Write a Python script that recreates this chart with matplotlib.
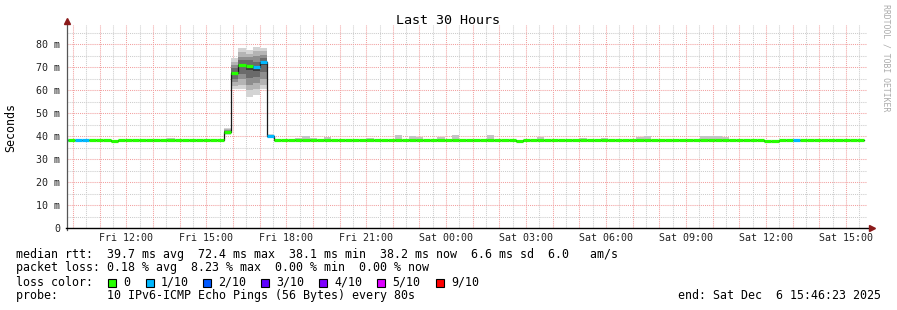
"""
SmokePing style latency graph: last 30 hours, median rtt with smoke.
"""

from datetime import datetime, timedelta

import matplotlib

matplotlib.use("Agg")
import matplotlib.pyplot as plt
from matplotlib.patches import Rectangle

W, H = 897, 310
MONO = "DejaVu Sans Mono"

# ---- data -----------------------------------------------------------------
start = datetime(2025, 12, 5, 9, 46, 23)
end_label = "end: Sat Dec  6 15:46:23 2025"
title = "Last 30 Hours"

bin_minutes = 16
first_edge_h = -0.232  # first 16-min bin starts just before the window

# median rtt per 16-min bin (ms)
median_ms = [
    38.2, 38.2, 38.2, 38.2, 38.2, 38.2, 38.2, 38.0, 38.2, 38.2,
    38.2, 38.2, 38.2, 38.2, 38.2, 38.2, 38.2, 38.2, 38.2, 38.2,
    38.2, 38.2, 38.2, 42.0, 67.6, 71.1, 70.4, 70.0, 72.3, 40.1,
    38.2, 38.2, 38.2, 38.2, 38.2, 38.2, 38.2, 38.2, 38.2, 38.2,
    38.2, 38.2, 38.2, 38.2, 38.2, 38.2, 38.2, 38.2, 38.2, 38.2,
    38.2, 38.2, 38.2, 38.2, 38.2, 38.2, 38.2, 38.2, 38.2, 38.2,
    38.2, 38.2, 38.2, 38.2, 38.0, 38.2, 38.2, 38.2, 38.2, 38.2,
    38.2, 38.2, 38.2, 38.2, 38.2, 38.2, 38.2, 38.2, 38.2, 38.2,
    38.2, 38.2, 38.2, 38.2, 38.2, 38.2, 38.2, 38.2, 38.2, 38.2,
    38.2, 38.2, 38.2, 38.2, 38.2, 38.2, 38.2, 38.2, 38.2, 38.0,
    38.0, 38.2, 38.2, 38.2, 38.2, 38.2, 38.2, 38.2, 38.2, 38.2,
    38.2, 38.2, 38.2,
]

# lost pings out of 10 per bin
loss = [
    1, 0, 1, 1, 0, 0, 0, 0, 0, 0,
    0, 0, 0, 0, 0, 0, 0, 0, 0, 0,
    0, 0, 0, 0, 0, 0, 0, 1, 1, 1,
    0, 0, 0, 0, 0, 0, 0, 0, 0, 0,
    0, 0, 0, 0, 0, 0, 0, 0, 0, 0,
    0, 0, 0, 0, 0, 0, 0, 0, 0, 0,
    0, 0, 0, 0, 0, 0, 0, 0, 0, 0,
    0, 0, 0, 0, 0, 0, 0, 0, 0, 0,
    0, 0, 0, 0, 0, 0, 0, 0, 0, 0,
    0, 0, 0, 0, 0, 0, 0, 0, 0, 0,
    0, 0, 0, 1, 0, 0, 0, 0, 0, 0,
    0, 0, 0,
]

# smoke (sorted individual pings) for the busy bins
spike_bins = [23, 24, 25, 26, 27, 28, 29]
spike_pings = [
    [40.6, 41.0, 41.4, 41.8, 42.0, 42.1, 42.4, 42.8, 43.2, 43.7],
    [60.5, 62.0, 63.5, 65.0, 67.0, 68.0, 69.5, 71.0, 72.5, 74.0],
    [60.5, 62.5, 65.0, 67.0, 70.0, 71.5, 73.0, 74.5, 76.5, 78.2],
    [57.3, 60.0, 62.5, 65.5, 69.0, 71.0, 73.0, 74.5, 76.0, 77.5],
    [58.0, 60.5, 63.0, 66.0, 68.5, 70.5, 72.5, 75.0, 77.0, 78.8],
    [60.5, 62.5, 65.0, 68.0, 71.0, 72.5, 74.0, 75.5, 77.0, 78.4],
    [39.2, 39.5, 39.7, 39.9, 40.0, 40.1, 40.3, 40.5, 40.7, 41.0],
]

# small smoke bumps above the quiet baseline
bump_bins = [15, 33, 34, 35, 37, 43, 47, 49, 50, 53, 55, 60, 67, 73, 76,
             81, 82, 90, 91, 92, 93]
bump_tops = [39.3, 39.3, 40.2, 39.3, 39.5, 39.3, 40.6, 40.0, 39.6, 39.5,
             40.5, 40.5, 39.5, 39.3, 39.3, 39.5, 40.0, 40.0, 40.0, 40.0, 39.8]

loss_levels = [0, 1, 2, 3, 4, 5, 9]
loss_labels = ["0", "1/10", "2/10", "3/10", "4/10", "5/10", "9/10"]
loss_colors = ["#26ff00", "#00b8ff", "#0059ff", "#5e00ff", "#7e00ff",
               "#dd00ff", "#ff0000"]

ytick_vals = [0, 10, 20, 30, 40, 50, 60, 70, 80]
xtick_labels = ["Fri 12:00", "Fri 15:00", "Fri 18:00", "Fri 21:00",
                "Sat 00:00", "Sat 03:00", "Sat 06:00", "Sat 09:00",
                "Sat 12:00", "Sat 15:00"]
first_tick = datetime(2025, 12, 5, 12, 0)

stats_lines = [
    "median rtt:  39.7 ms avg  72.4 ms max  38.1 ms min  38.2 ms now  6.6 ms sd  6.0   am/s",
    "packet loss: 0.18 % avg  8.23 % max  0.00 % min  0.00 % now",
    "loss color:",
    "probe:       10 IPv6-ICMP Echo Pings (56 Bytes) every 80s",
]


def hours(t):
    return (t - start).total_seconds() / 3600.0


def px_x(x):
    return x / W


def px_y(y):
    return 1 - y / H


# ---- figure ---------------------------------------------------------------
fig = plt.figure(figsize=(W / 100, H / 100), dpi=100)
fig.patch.set_facecolor("white")

x_left, x_right = 67.0, 866.5
y_bottom, y_top = 228.3, 25.0
ax = fig.add_axes([px_x(x_left), px_y(y_bottom),
                   (x_right - x_left) / W, (y_bottom - y_top) / H])
ymax = 88.4
ax.set_xlim(0, 30)
ax.set_ylim(0, ymax)
for s in ax.spines.values():
    s.set_visible(False)

# grid
dot = (0, (1, 1))
for k in range(31):
    h = hours(datetime(2025, 12, 5, 10, 0) + timedelta(hours=k))
    if 0 < h < 30:
        ax.axvline(h, color="#f2a0a0", lw=0.75, ls=dot, zorder=0.6)
    hm = h + 0.5
    if 0 < hm < 30:
        ax.axvline(hm, color="#cccccc", lw=0.75, ls=dot, zorder=0.5)
for v in range(5, 90, 5):
    if v % 10 == 0:
        ax.axhline(v, color="#f2a0a0", lw=0.75, ls=dot, zorder=0.6)
    else:
        ax.axhline(v, color="#cccccc", lw=0.75, ls=dot, zorder=0.5)

# bins
bw = bin_minutes / 60.0
edges = [first_edge_h + i * bw for i in range(len(median_ms) + 1)]

# smoke bumps
for b, top in zip(bump_bins, bump_tops):
    ax.fill_between([edges[b], edges[b + 1]], median_ms[b], top,
                    color="#c4c4c4", lw=0, zorder=1)

# smoke for spike bins, darker toward the middle
shades = ["#d4d4d4", "#b4b4b4", "#8e8e8e", "#6a6a6a", "#3c3c3c",
          "#6a6a6a", "#8e8e8e", "#b4b4b4", "#d4d4d4"]
for b, pings in zip(spike_bins, spike_pings):
    for i in range(len(pings) - 1):
        ax.fill_between([edges[b], edges[b + 1]], pings[i], pings[i + 1],
                        color=shades[i], lw=0, zorder=1)

# dark step line for the jumps
ax.step(edges, median_ms + [median_ms[-1]], where="post", color="#1a1a1a",
        lw=0.9, zorder=2)

# coloured median segments
cmap = dict(zip(loss_levels, loss_colors))
for i, m in enumerate(median_ms):
    x0 = max(edges[i], 0)
    ax.plot([x0, edges[i + 1]], [m, m], color=cmap[loss[i]], lw=2.3,
            solid_capstyle="butt", zorder=3)

# axes lines with arrows
ax.plot([0, 0], [-0.8, ymax + 1.0], color="#555555", lw=0.9, clip_on=False,
        zorder=4)
ax.plot([-0.03, 30.15], [0, 0], color="black", lw=1.0, clip_on=False, zorder=4)
ax.plot([0], [ymax + 1.8], marker="^", ms=4, color="#8b1a1a", clip_on=False,
        zorder=5)
ax.plot([30.2], [0], marker=">", ms=4, color="#8b1a1a", clip_on=False,
        zorder=5)

# ticks
ax.set_yticks(ytick_vals)
ax.set_yticklabels(["0" if v == 0 else f"{v} m" for v in ytick_vals])
ax.set_xticks([hours(first_tick + timedelta(hours=3 * k))
               for k in range(len(xtick_labels))])
ax.set_xticklabels(xtick_labels)
ax.tick_params(length=0, labelsize=7.2, colors="#222222")
ax.tick_params(axis="y", pad=5)
ax.tick_params(axis="x", pad=3.5)
for lab in ax.get_xticklabels() + ax.get_yticklabels():
    lab.set_family(MONO)

# y label, title and side credit
fig.text(px_x(11), px_y(127), "Seconds", family=MONO, fontsize=8.4,
         rotation=90, ha="center", va="center")
fig.text(px_x(448), px_y(23.5), title, family=MONO, fontsize=9.6,
         ha="center", va="baseline")
fig.text(px_x(886), px_y(4), "RRDTOOL / TOBI OETIKER", family=MONO,
         fontsize=5.9, color="#aaaaaa", rotation=270, ha="center", va="top")

# footer
baselines = [257.7, 271.5, 285.5, 299.3]
for line, yb in zip(stats_lines, baselines):
    fig.text(px_x(16), px_y(yb), line, family=MONO, fontsize=8.35,
             ha="left", va="baseline")
fig.text(px_x(880.5), px_y(299.3), end_label, family=MONO, fontsize=8.35,
         ha="right", va="baseline")

square_x = [108.3, 145.7, 203.3, 261.3, 319.3, 377.3, 436.0]
for sx, col, lab in zip(square_x, loss_colors, loss_labels):
    fig.patches.append(Rectangle((px_x(sx), px_y(287)), 8 / W, 8 / H,
                                 transform=fig.transFigure, facecolor=col,
                                 edgecolor="black", lw=0.8))
    fig.text(px_x(sx + 15), px_y(285.5), lab, family=MONO, fontsize=8.35,
             ha="left", va="baseline")

fig.savefig("out.png", dpi=100)
